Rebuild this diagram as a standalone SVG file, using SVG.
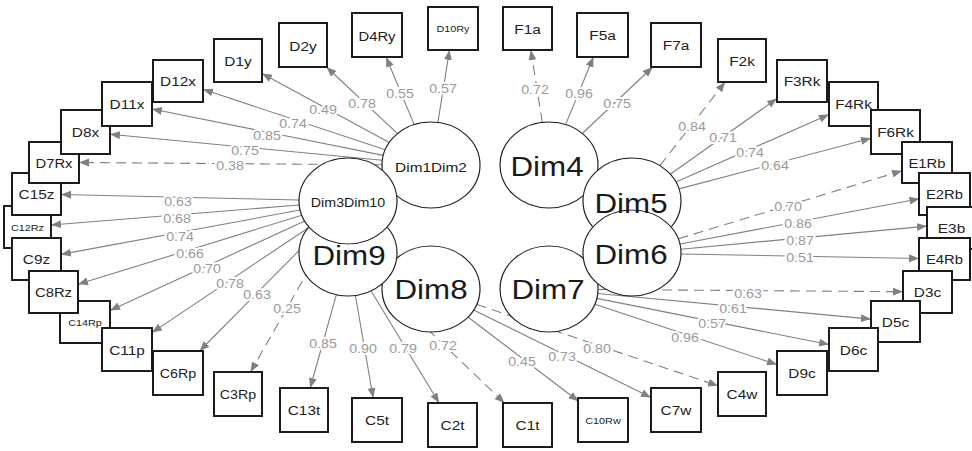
<svg xmlns="http://www.w3.org/2000/svg" width="972" height="451" viewBox="0 0 972 451">
<style>
.e{fill:none;stroke:#808080;stroke-width:1.1;marker-end:url(#ah)}
.d{stroke-dasharray:10 6}
.cl{font-family:"Liberation Sans",Arial,sans-serif;font-size:12.5px;fill:#9a9a9a;text-anchor:middle;stroke:#fff;stroke-width:4;paint-order:stroke;stroke-linejoin:round}
.bx{fill:#fff;stroke:#111;stroke-width:1.9}
.bl{font-family:"Liberation Sans",Arial,sans-serif;font-size:13.5px;fill:#222;text-anchor:middle}
.s13{font-size:13px}.s12{font-size:12.5px}.s9{font-size:9.5px}
.lv{fill:#fff;stroke:#222;stroke-width:1.2}
.ll{font-family:"Liberation Sans",Arial,sans-serif;font-size:27.5px;fill:#1a1a1a;text-anchor:middle}
.lsm{font-size:13.5px}.lxs{font-size:12.5px}
</style>
<defs>
<marker id="ah" markerUnits="userSpaceOnUse" markerWidth="11" markerHeight="9" refX="10" refY="4" orient="auto"><path d="M0,0 L10,4 L0,8 z" fill="#808080"/></marker>
<mask id="m9" maskUnits="userSpaceOnUse" x="0" y="0" width="972" height="451"><rect width="972" height="451" fill="#fff"/><ellipse cx="348" cy="201" rx="49.8" ry="43.8" fill="#000"/></mask>
<mask id="m5" maskUnits="userSpaceOnUse" x="0" y="0" width="972" height="451"><rect width="972" height="451" fill="#fff"/><ellipse cx="632" cy="253" rx="49.8" ry="43.8" fill="#000"/></mask>
</defs>
<rect width="972" height="451" fill="#fff"/>
<g id="connectors">
<path class="e" d="M389.3,142.4L262,73.5"/>
<path class="e" d="M397.5,133.6L326.5,67"/>
<path class="e" d="M414.2,124.6L386.1,57"/>
<path class="e" d="M437.9,122.4L449.5,50"/>
<path class="e" d="M385.2,149.8L203,89.3"/>
<path class="e" d="M383.2,155.4L152,109"/>
<path class="e" d="M382.3,160.3L110,134.3"/>
<path class="e d" d="M382,164.8L79,162.5"/>
<path class="e" d="M299,200L61,194.5"/>
<path class="e" d="M299.2,205L51,225"/>
<path class="e" d="M300.1,210L61,254.4"/>
<path class="e" d="M301.8,215.3L78,284.3"/>
<path class="e" d="M304.7,221L110,310.4"/>
<path class="e" d="M309.2,227.2L152,332.6"/>
<path class="e" d="M316,233.4L199.6,351"/>
<path class="e d" d="M326.2,239.4L250.5,372"/>
<path class="e" d="M336.3,294.8L310.2,388"/>
<path class="e" d="M355.4,295.5L373.2,398"/>
<path class="e" d="M371.1,291L439.1,403"/>
<path class="e d" d="M381.1,284.7L504.5,403"/>
<path class="e" d="M467.9,317L578.5,401.2"/>
<path class="e" d="M473.6,310L651,397.6"/>
<path class="e d" d="M476.7,304.4L718,385.8"/>
<path class="e d" d="M598,289.5L903,291.7"/>
<path class="e" d="M597.7,293.5L871,319.1"/>
<path class="e" d="M596.7,298.4L829,344.5"/>
<path class="e" d="M594.8,304.2L777,364.6"/>
<path class="e d" d="M678.3,238.8L902,170.8"/>
<path class="e" d="M679.9,244L919.5,198.7"/>
<path class="e" d="M680.8,249.2L927,226.1"/>
<path class="e" d="M681,254L919,258.5"/>
<path class="e d" d="M659.9,165.6L725.1,82"/>
<path class="e" d="M670.3,174.2L777,98.5"/>
<path class="e" d="M675.9,182L829,114.6"/>
<path class="e" d="M679,188.9L871,138.3"/>
<path class="e d" d="M542.3,122.4L530.9,50"/>
<path class="e" d="M565.6,124.6L593.4,57"/>
<path class="e" d="M582.3,133.5L652.7,67"/>
<g id="coefficients">
<text class="cl" transform="matrix(1.14 0 0 1 323 113.5)">0.49</text>
<text class="cl" transform="matrix(1.14 0 0 1 362 107.5)">0.78</text>
<text class="cl" transform="matrix(1.14 0 0 1 400 97.5)">0.55</text>
<text class="cl" transform="matrix(1.14 0 0 1 443 92.5)">0.57</text>
<text class="cl" transform="matrix(1.14 0 0 1 293 127.5)">0.74</text>
<text class="cl" transform="matrix(1.14 0 0 1 267 139.5)">0.85</text>
<text class="cl" transform="matrix(1.14 0 0 1 245 154.5)">0.75</text>
<text class="cl" transform="matrix(1.14 0 0 1 230 169.5)">0.38</text>
<text class="cl" transform="matrix(1.14 0 0 1 178 205.5)">0.63</text>
<text class="cl" transform="matrix(1.14 0 0 1 177 222.5)">0.68</text>
<text class="cl" transform="matrix(1.14 0 0 1 180 240.5)">0.74</text>
<text class="cl" transform="matrix(1.14 0 0 1 190 257.5)">0.66</text>
<text class="cl" transform="matrix(1.14 0 0 1 207 272.5)">0.70</text>
<text class="cl" transform="matrix(1.14 0 0 1 230 287.5)">0.78</text>
<text class="cl" transform="matrix(1.14 0 0 1 257 298.5)">0.63</text>
<text class="cl" transform="matrix(1.14 0 0 1 287 312.5)">0.25</text>
<text class="cl" transform="matrix(1.14 0 0 1 323 347.5)">0.85</text>
<text class="cl" transform="matrix(1.14 0 0 1 363 352.5)">0.90</text>
<text class="cl" transform="matrix(1.14 0 0 1 403 352.5)">0.79</text>
<text class="cl" transform="matrix(1.14 0 0 1 443 349.5)">0.72</text>
<text class="cl" transform="matrix(1.14 0 0 1 522 365.5)">0.45</text>
<text class="cl" transform="matrix(1.14 0 0 1 562 360.5)">0.73</text>
<text class="cl" transform="matrix(1.14 0 0 1 597 352.5)">0.80</text>
<text class="cl" transform="matrix(1.14 0 0 1 748 297.5)">0.63</text>
<text class="cl" transform="matrix(1.14 0 0 1 733 312.5)">0.61</text>
<text class="cl" transform="matrix(1.14 0 0 1 712 327.5)">0.57</text>
<text class="cl" transform="matrix(1.14 0 0 1 685 341.5)">0.96</text>
<text class="cl" transform="matrix(1.14 0 0 1 788 210.5)">0.70</text>
<text class="cl" transform="matrix(1.14 0 0 1 798 227.5)">0.86</text>
<text class="cl" transform="matrix(1.14 0 0 1 800 244.5)">0.87</text>
<text class="cl" transform="matrix(1.14 0 0 1 800 261.5)">0.51</text>
<text class="cl" transform="matrix(1.14 0 0 1 692 130.5)">0.84</text>
<text class="cl" transform="matrix(1.14 0 0 1 723 141.5)">0.71</text>
<text class="cl" transform="matrix(1.14 0 0 1 750 156.5)">0.74</text>
<text class="cl" transform="matrix(1.14 0 0 1 775 169.5)">0.64</text>
<text class="cl" transform="matrix(1.14 0 0 1 535 93.5)">0.72</text>
<text class="cl" transform="matrix(1.14 0 0 1 579 97.5)">0.96</text>
<text class="cl" transform="matrix(1.14 0 0 1 617 107.5)">0.75</text>
</g>
</g>
<g id="Dim1Dim2"><ellipse class="lv" cx="431" cy="165" rx="49" ry="43"/><text class="ll lsm" transform="matrix(1.14 0 0 1 431 172)">Dim1Dim2</text></g>
<g id="Dim8"><ellipse class="lv" cx="431" cy="289" rx="49" ry="43"/><text class="ll" transform="matrix(1.14 0 0 1 431 299)">Dim8</text></g>
<g id="Dim3Dim10"><ellipse class="lv" cx="348" cy="201" rx="49" ry="43"/><text class="ll lxs" transform="matrix(1.14 0 0 1 348 206.5)">Dim3Dim10</text></g>
<g id="Dim9"><ellipse class="lv" cx="348" cy="253" rx="49" ry="43" mask="url(#m9)"/><text class="ll" transform="matrix(1.14 0 0 1 349 264.5)">Dim9</text></g>
<g id="Dim4"><ellipse class="lv" cx="549" cy="165" rx="49" ry="43"/><text class="ll" transform="matrix(1.14 0 0 1 547 176)">Dim4</text></g>
<g id="Dim7"><ellipse class="lv" cx="549" cy="289" rx="49" ry="43"/><text class="ll" transform="matrix(1.14 0 0 1 548 299)">Dim7</text></g>
<g id="Dim6"><ellipse class="lv" cx="632" cy="253" rx="49" ry="43"/><text class="ll" transform="matrix(1.14 0 0 1 631 263.5)">Dim6</text></g>
<g id="Dim5"><ellipse class="lv" cx="632" cy="201" rx="49" ry="43" mask="url(#m5)"/><text class="ll" transform="matrix(1.14 0 0 1 631 213)">Dim5</text></g>
<g id="D1y"><rect class="bx" x="214" y="39" width="48" height="43"/><text class="bl" transform="matrix(1.14 0 0 1 238 66)">D1y</text></g>
<g id="D2y"><rect class="bx" x="279" y="23" width="48" height="44"/><text class="bl" transform="matrix(1.14 0 0 1 303 50.5)">D2y</text></g>
<g id="D4Ry"><rect class="bx" x="352" y="13" width="50" height="44"/><text class="bl s13" transform="matrix(1.14 0 0 1 377 40.5)">D4Ry</text></g>
<g id="D10Ry"><rect class="bx" x="428" y="7" width="50" height="43"/><text class="bl s9" transform="matrix(1.14 0 0 1 453 32)">D10Ry</text></g>
<g id="F1a"><rect class="bx" x="503" y="7" width="49" height="43"/><text class="bl" transform="matrix(1.14 0 0 1 527.5 33.5)">F1a</text></g>
<g id="F5a"><rect class="bx" x="577" y="13" width="51" height="44"/><text class="bl" transform="matrix(1.14 0 0 1 602.5 40)">F5a</text></g>
<g id="F7a"><rect class="bx" x="651" y="23" width="50" height="44"/><text class="bl" transform="matrix(1.14 0 0 1 676 50)">F7a</text></g>
<g id="F2k"><rect class="bx" x="718" y="39" width="48" height="43"/><text class="bl" transform="matrix(1.14 0 0 1 742 65.5)">F2k</text></g>
<g id="F3Rk"><rect class="bx" x="777" y="60" width="50" height="42"/><text class="bl" transform="matrix(1.14 0 0 1 802 86)">F3Rk</text></g>
<g id="F4Rk"><rect class="bx" x="829" y="82" width="49" height="44"/><text class="bl" transform="matrix(1.14 0 0 1 853.5 109)">F4Rk</text></g>
<g id="F6Rk"><rect class="bx" x="871" y="110" width="49" height="44"/><text class="bl" transform="matrix(1.14 0 0 1 895.5 137)">F6Rk</text></g>
<g id="E1Rb"><rect class="bx" x="902" y="142" width="50" height="41"/><text class="bl s13" transform="matrix(1.14 0 0 1 927 167.5)">E1Rb</text></g>
<g id="E2Rb"><rect class="bx" x="919" y="173" width="51" height="42"/><text class="bl s13" transform="matrix(1.14 0 0 1 944.5 199)">E2Rb</text></g>
<g id="E3b"><rect class="bx" x="927" y="207" width="49" height="42"/><text class="bl" transform="matrix(1.14 0 0 1 951.5 233)">E3b</text></g>
<g id="E4Rb"><rect class="bx" x="919" y="238" width="51" height="42"/><text class="bl s13" transform="matrix(1.14 0 0 1 944.5 264)">E4Rb</text></g>
<g id="D3c"><rect class="bx" x="903" y="271" width="49" height="42"/><text class="bl" transform="matrix(1.14 0 0 1 927.5 297)">D3c</text></g>
<g id="D5c"><rect class="bx" x="871" y="301" width="49" height="41"/><text class="bl" transform="matrix(1.14 0 0 1 895.5 326.5)">D5c</text></g>
<g id="D6c"><rect class="bx" x="829" y="328" width="49" height="43"/><text class="bl" transform="matrix(1.14 0 0 1 853.5 354.5)">D6c</text></g>
<g id="D9c"><rect class="bx" x="777" y="351" width="50" height="44"/><text class="bl" transform="matrix(1.14 0 0 1 802 378)">D9c</text></g>
<g id="C4w"><rect class="bx" x="718" y="372" width="48" height="44"/><text class="bl" transform="matrix(1.14 0 0 1 742 399)">C4w</text></g>
<g id="C7w"><rect class="bx" x="651" y="388" width="50" height="44"/><text class="bl" transform="matrix(1.14 0 0 1 676 415)">C7w</text></g>
<g id="C10Rw"><rect class="bx" x="578" y="398" width="50" height="44"/><text class="bl s9" transform="matrix(1.14 0 0 1 603 423.5)">C10Rw</text></g>
<g id="C1t"><rect class="bx" x="503" y="403" width="49" height="44"/><text class="bl" transform="matrix(1.14 0 0 1 527.5 430)">C1t</text></g>
<g id="C2t"><rect class="bx" x="428" y="403" width="49" height="44"/><text class="bl" transform="matrix(1.14 0 0 1 452.5 430)">C2t</text></g>
<g id="C5t"><rect class="bx" x="352" y="398" width="50" height="44"/><text class="bl" transform="matrix(1.14 0 0 1 377 425)">C5t</text></g>
<g id="C13t"><rect class="bx" x="280" y="388" width="48" height="44"/><text class="bl" transform="matrix(1.14 0 0 1 304 415)">C13t</text></g>
<g id="C3Rp"><rect class="bx" x="214" y="372" width="48" height="44"/><text class="bl s12" transform="matrix(1.14 0 0 1 238 398.5)">C3Rp</text></g>
<g id="C12Rz"><rect class="bx" x="4" y="206" width="47" height="42"/><text class="bl s9" transform="matrix(1.14 0 0 1 27.5 230.5)">C12Rz</text></g>
<g id="C9z"><rect class="bx" x="12" y="238" width="49" height="42"/><text class="bl" transform="matrix(1.14 0 0 1 36.5 264)">C9z</text></g>
<g id="C14Rp"><rect class="bx" x="60" y="301" width="50" height="42"/><text class="bl s9" transform="matrix(1.14 0 0 1 85 325.5)">C14Rp</text></g>
<g id="C8Rz"><rect class="bx" x="29" y="271" width="49" height="42"/><text class="bl s13" transform="matrix(1.14 0 0 1 53.5 297)">C8Rz</text></g>
<g id="C11p"><rect class="bx" x="102" y="328" width="50" height="43"/><text class="bl" transform="matrix(1.14 0 0 1 127 354.5)">C11p</text></g>
<g id="C6Rp"><rect class="bx" x="153" y="351" width="50" height="44"/><text class="bl s12" transform="matrix(1.14 0 0 1 178 377.5)">C6Rp</text></g>
<g id="C15z"><rect class="bx" x="12" y="173" width="49" height="42"/><text class="bl" transform="matrix(1.14 0 0 1 36.5 199)">C15z</text></g>
<g id="D7Rx"><rect class="bx" x="29" y="142" width="50" height="41"/><text class="bl s13" transform="matrix(1.14 0 0 1 54 167.5)">D7Rx</text></g>
<g id="D8x"><rect class="bx" x="61" y="110" width="49" height="44"/><text class="bl" transform="matrix(1.14 0 0 1 85.5 137)">D8x</text></g>
<g id="D11x"><rect class="bx" x="102" y="82" width="50" height="44"/><text class="bl" transform="matrix(1.14 0 0 1 127 109)">D11x</text></g>
<g id="D12x"><rect class="bx" x="153" y="60" width="50" height="42"/><text class="bl" transform="matrix(1.14 0 0 1 178 86)">D12x</text></g>
</svg>
